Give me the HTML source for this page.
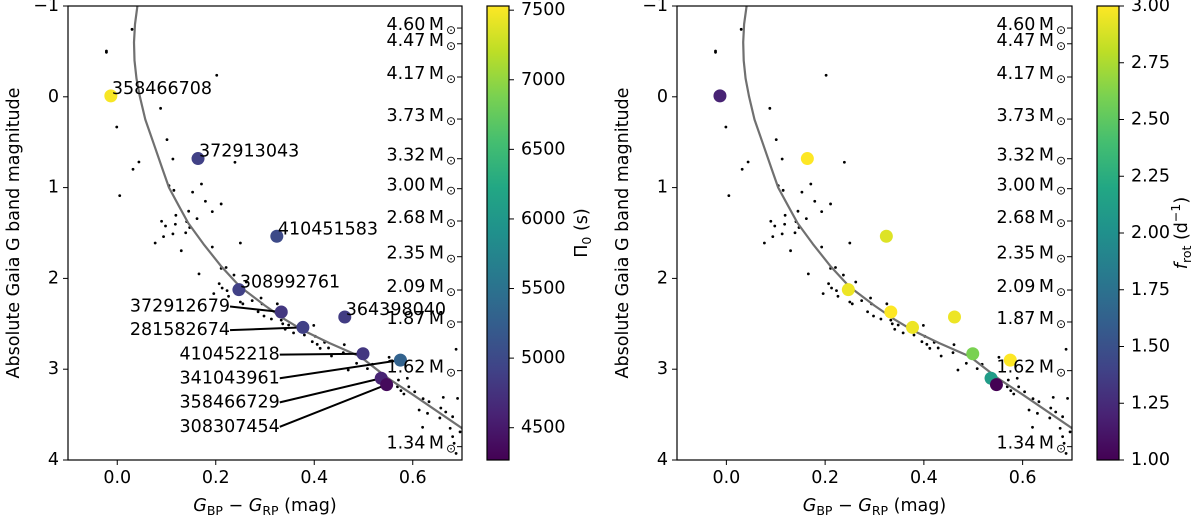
<!DOCTYPE html>
<html><head><meta charset="utf-8"><title>Gaia CMD</title>
<style>
html,body{margin:0;padding:0;background:#fff;}
svg{display:block;font-family:"DejaVu Sans","Liberation Sans",sans-serif;}
</style></head>
<body>
<svg id="fig" width="1200" height="526" viewBox="0 0 1200 526" xmlns="http://www.w3.org/2000/svg"></svg>
<script>
// ---- data ----
const starIds = ["358466708","372913043","410451583","308992761","372912679","281582674","364398040","410452218","341043961","358466729","308307454"];
const starColor = [-0.013,0.164,0.324,0.247,0.333,0.377,0.462,0.499,0.575,0.536,0.547];
const starMag = [-0.01,0.68,1.536,2.124,2.37,2.54,2.425,2.83,2.90,3.10,3.17];
const starPeriod = [7500,4900,5000,4900,4800,4900,4850,4800,5300,4600,4350];
const starFrot = [1.2,3.0,2.9,2.95,3.0,2.95,2.95,2.6,3.0,2.1,1.0];
const bgColor = [0.030,-0.022,-0.022,0.202,0.088,-0.001,0.101,0.113,0.044,0.239,0.032,0.005,0.105,0.115,0.171,0.153,0.179,0.211,0.193,0.145,0.119,0.162,0.090,0.141,0.098,0.118,0.147,0.094,0.113,0.139,0.077,0.25,0.13,0.193,0.166,0.211,0.221,0.237,0.262,0.196,0.207,0.213,0.223,0.226,0.25,0.255,0.274,0.292,0.294,0.286,0.298,0.313,0.325,0.333,0.336,0.348,0.341,0.358,0.38,0.399,0.402,0.396,0.406,0.412,0.421,0.429,0.435,0.461,0.459,0.469,0.486,0.508,0.518,0.552,0.569,0.576,0.582,0.592,0.604,0.613,0.621,0.63,0.633,0.62,0.655,0.657,0.662,0.667,0.681,0.676,0.688,0.691,0.681,0.688,0.684,0.696,0.589,0.571];
const bgMag = [-0.743,-0.504,-0.49,-0.237,0.127,0.333,0.472,0.685,0.718,0.721,0.798,1.088,0.979,1.03,0.96,1.05,1.15,1.18,1.265,1.26,1.305,1.342,1.371,1.375,1.423,1.404,1.44,1.54,1.51,1.497,1.61,1.61,1.695,1.654,1.95,1.89,1.88,1.963,2.04,2.168,2.058,2.106,2.135,2.197,2.26,2.28,2.245,2.216,2.28,2.367,2.414,2.447,2.28,2.46,2.50,2.513,2.56,2.60,2.623,2.517,2.638,2.697,2.726,2.77,2.704,2.766,2.855,2.73,2.818,3.009,2.935,2.994,2.946,2.869,3.193,3.236,3.273,3.193,3.248,3.449,3.325,3.486,3.358,3.64,3.537,3.427,3.31,3.471,3.523,3.65,2.78,3.321,3.743,3.927,3.816,3.69,3.10,3.119];
const isoColor = [0.041,0.036,0.034,0.035,0.039,0.046,0.057,0.073,0.092,0.105,0.125,0.144,0.175,0.21,0.249,0.3,0.34,0.377,0.43,0.493,0.55,0.6,0.7];
const isoMag = [-1,-0.8,-0.6,-0.4,-0.2,0,0.25,0.5,0.8,1.0,1.2,1.39,1.62,1.86,2.09,2.3,2.45,2.57,2.71,2.86,3.1,3.28,3.65];
const massLabels = ["4.60","4.47","4.17","3.73","3.32","3.00","2.68","2.35","2.09","1.87","1.62","1.34"];
const massMag = [-0.757,-0.584,-0.218,0.245,0.682,1.012,1.368,1.761,2.128,2.48,3.016,3.853];
const xTicks = [0.0,0.2,0.4,0.6];
const xTickLabels = ["0.0","0.2","0.4","0.6"];
const yTicks = [-1,0,1,2,3,4];
const yTickLabels = ["\u22121","0","1","2","3","4"];
const cb1Ticks = [4500,5000,5500,6000,6500,7000,7500];
const cb2Ticks = [1.00,1.25,1.50,1.75,2.00,2.25,2.50,2.75,3.00];
const leaderIdx = [4,5,7,8,9,10];
const leaderMag = [2.31,2.57,2.84,3.10,3.365,3.635];
const leaderRightX = [0.229,0.229,0.330,0.330,0.330,0.330];

const NS="http://www.w3.org/2000/svg";
const svg=document.getElementById('fig');
const FS=17.5;
function el(tag,attrs,parent){const e=document.createElementNS(NS,tag);for(const k in attrs)e.setAttribute(k,attrs[k]);(parent||svg).appendChild(e);return e;}

const VIR=[[68,1,84],[72,35,116],[64,67,135],[52,94,141],[41,120,142],[32,144,140],[34,167,132],[68,190,112],[121,209,81],[189,222,38],[253,231,37]];
function viridis(t){t=Math.max(0,Math.min(1,t));const p=t*(VIR.length-1);const i=Math.min(Math.floor(p),VIR.length-2);const f=p-i;const a=VIR[i],b=VIR[i+1];return `rgb(${Math.round(a[0]+(b[0]-a[0])*f)},${Math.round(a[1]+(b[1]-a[1])*f)},${Math.round(a[2]+(b[2]-a[2])*f)})`;}

const Y0=6,Y1=460;
function yS(m){return Y0+(m+1)/5*(Y1-Y0);}

const defs=el('defs',{});
const lg=el('linearGradient',{id:'vir',x1:0,y1:1,x2:0,y2:0},defs);
VIR.forEach((c,i)=>el('stop',{offset:(i/(VIR.length-1)),'stop-color':`rgb(${c})`},lg));

function panel(px0,px1,valArr,vmin,vmax,cbx,cbTicks,cbFmt,cbLabel,lx,showNames,pname){
  const g=el('g',{});
  
  
  const xS=c=>px0+(c+0.1)/0.8*(px1-px0);
  const cid='clip'+pname;
  const cp=el('clipPath',{id:cid},defs);el('rect',{x:px0,y:Y0,width:px1-px0,height:Y1-Y0},cp);
  const plot=el('g',{'clip-path':`url(#${cid})`},g);
  for(let i=0;i<bgColor.length;i++){
    const d=el('circle',{cx:xS(bgColor[i]),cy:yS(bgMag[i]),r:1.4,fill:'#000'},plot);
    
    
  }
  let dstr='';
  for(let i=0;i<isoColor.length;i++){dstr+=(i?'L':'M')+xS(isoColor[i]).toFixed(1)+','+yS(isoMag[i]).toFixed(1);}
  const iso=el('path',{d:dstr,fill:'none',stroke:'#707070','stroke-width':2.2,'stroke-linejoin':'round'},plot);
  
  
  if(showNames){
    for(let k=0;k<leaderIdx.length;k++){
      const i=leaderIdx[k];
      const ln=el('line',{x1:xS(leaderRightX[k]),y1:yS(leaderMag[k]),x2:xS(starColor[i]),y2:yS(starMag[i]),stroke:'#000','stroke-width':2},g);
      
      
    }
  }
  for(let i=0;i<starIds.length;i++){
    const c=el('circle',{cx:xS(starColor[i]),cy:yS(starMag[i]),r:6.5,fill:viridis((valArr[i]-vmin)/(vmax-vmin))},g);
    
    
  }
  if(showNames){
    for(let i=0;i<starIds.length;i++){
      const k=leaderIdx.indexOf(i);
      let t;
      if(k>=0){t=el('text',{x:xS(leaderRightX[k]),y:yS(leaderMag[k]),'font-size':FS,'text-anchor':'end','dominant-baseline':'central'},g);}
      else{t=el('text',{x:xS(starColor[i])+1,y:yS(starMag[i])-7,'font-size':FS,'dominant-baseline':'central'},g);}
      t.textContent=starIds[i];
      
      
    }
  }
  for(let i=0;i<massLabels.length;i++){
    const y=yS(massMag[i]);
    const t=el('text',{x:px1-18,y:y-3,'font-size':FS,'text-anchor':'end','dominant-baseline':'central'},g);
    t.textContent=massLabels[i]+'\u2009M';
    
    
    const s=el('text',{x:px1-11,y:y+2,'font-size':12,'text-anchor':'middle','dominant-baseline':'central'},g);
    s.textContent='\u2299';
    
    
    el('line',{x1:px1-5,y1:y,x2:px1,y2:y,stroke:'#000','stroke-width':1},g);
  }
  const fr=el('rect',{x:px0,y:Y0,width:px1-px0,height:Y1-Y0,fill:'none',stroke:'#000','stroke-width':1.2},g);
  
  
  for(let i=0;i<xTicks.length;i++){
    const x=xS(xTicks[i]);
    el('line',{x1:x,y1:Y1,x2:x,y2:Y1+5,stroke:'#000','stroke-width':1},g);
    const t=el('text',{x:x,y:Y1+23,'font-size':FS,'text-anchor':'middle'},g);
    t.textContent=xTickLabels[i];
    
    
  }
  for(let i=0;i<yTicks.length;i++){
    const y=yS(yTicks[i]);
    el('line',{x1:px0-5,y1:y,x2:px0,y2:y,stroke:'#000','stroke-width':1},g);
    const t=el('text',{x:px0-9,y:y,'font-size':FS,'text-anchor':'end','dominant-baseline':'central'},g);
    t.textContent=yTickLabels[i];
    
    
  }
  const xt=el('text',{x:(px0+px1)/2,y:511,'font-size':FS,'text-anchor':'middle'},g);
  xt.innerHTML='<tspan font-style="italic">G</tspan><tspan font-size="12.5" dy="4">BP</tspan><tspan dy="-4"> \u2212 </tspan><tspan font-style="italic">G</tspan><tspan font-size="12.5" dy="4">RP</tspan><tspan dy="-4"> (mag)</tspan>';
  
  
  const yx=px0-49;
  const yt=el('text',{x:yx,y:233,'font-size':FS,'text-anchor':'middle',transform:`rotate(-90 ${yx} 233)`},g);
  yt.textContent='Absolute Gaia G band magnitude';
  
  
  const cb=el('rect',{x:cbx,y:Y0,width:22,height:Y1-Y0,fill:'url(#vir)',stroke:'#000','stroke-width':1.2},g);
  
  
  const cS=v=>Y1-(v-vmin)/(vmax-vmin)*(Y1-Y0);
  for(let i=0;i<cbTicks.length;i++){
    const y=cS(cbTicks[i]);
    el('line',{x1:cbx+22,y1:y,x2:cbx+27,y2:y,stroke:'#000','stroke-width':1},g);
    const t=el('text',{x:cbx+34,y:y,'font-size':FS,'dominant-baseline':'central'},g);
    t.textContent=cbFmt(cbTicks[i]);
    
    
  }
  const cl=el('text',{x:lx,y:233,'font-size':FS,'text-anchor':'middle',transform:`rotate(-90 ${lx} 233)`},g);
  cl.innerHTML=cbLabel;
  
  
}
panel(68,462,starPeriod,4268,7530,487,cb1Ticks,v=>String(v),'\u03a0<tspan font-size="12.5" dy="4">0</tspan><tspan dy="-4"> (s)</tspan>',587,true,'left-panel');
panel(677,1072,starFrot,1.0,3.0,1097,cb2Ticks,v=>v.toFixed(2),'<tspan font-style="italic">f</tspan><tspan font-size="12.5" dy="4">rot</tspan><tspan dy="-4"> (d</tspan><tspan font-size="12.5" dy="-7">\u22121</tspan><tspan dy="7">)</tspan>',1187,false,'right-panel');
</script>
</body></html>
